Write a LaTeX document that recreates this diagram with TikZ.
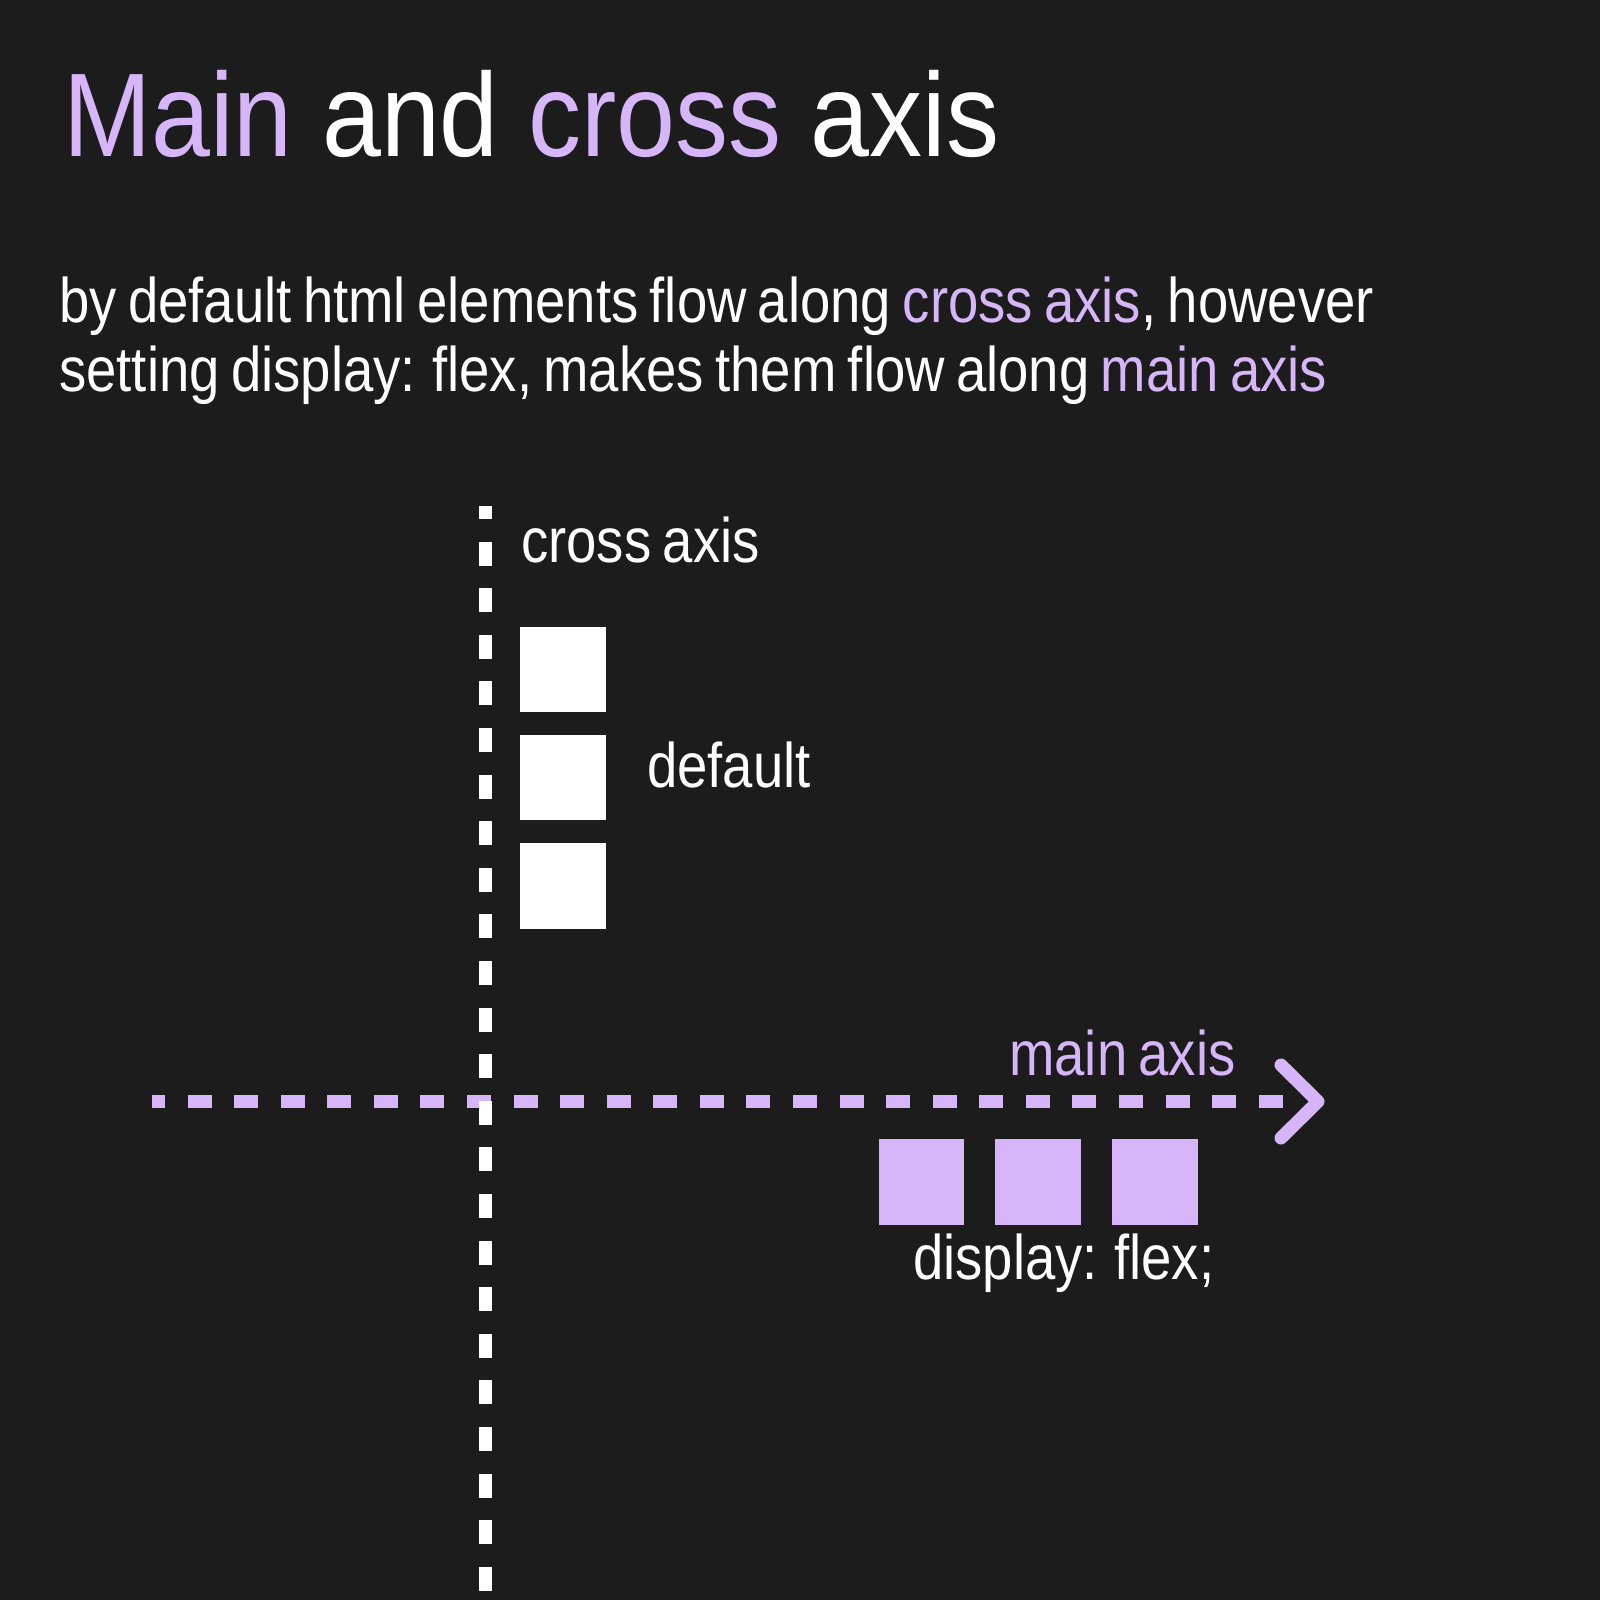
\documentclass[tikz,border=0pt]{standalone}
\usepackage{fontspec}
\setmainfont{Liberation Sans}
\newfontfamily\titlefont[FakeStretch=0.89]{Liberation Sans}
\newfontfamily\bodyfont[FakeStretch=0.865,WordSpace=0.75]{Liberation Sans}
\definecolor{bg}{RGB}{28,28,28}
\definecolor{purp}{RGB}{214,181,249}
\begin{document}
\begin{tikzpicture}[x=1pt,y=-1pt,
  wbox/.style={fill=white, minimum size=85.7pt, inner sep=0pt, draw=none},
  pbox/.style={fill=purp, minimum size=85.7pt, inner sep=0pt, draw=none},
  bodytext/.style={anchor=base west, inner sep=0pt, font=\bodyfont\fontsize{63}{63}\selectfont},
  axisline/.style={line width=13pt, dash pattern=on 24pt off 22.6pt, dash phase=11pt}]
\fill[bg] (0,0) rectangle (1600,1600);
\useasboundingbox (0,0) rectangle (1600,1600);

\node[anchor=base west, inner sep=0pt, text=white, font=\titlefont\fontsize{119}{119}\selectfont] (title) at (63,156)
  {\textcolor{purp}{Main} and \textcolor{purp}{cross} axis};

\node[bodytext, text=white] (sub1) at (59,322) {by default html elements flow along \textcolor{purp}{cross axis}, however};
\node[bodytext, text=white] (sub2) at (59,391) {setting display: flex, makes them flow along \textcolor{purp}{main axis}};

% axes
\coordinate (hl) at (152,1101.5);
\coordinate (hr) at (1283,1101.5);
\coordinate (vtop) at (485.5,506);
\coordinate (vbot) at (485.5,1600);
\coordinate (armtop) at (1281,1065);
\coordinate (tip) at (1318,1101.5);
\coordinate (armbot) at (1281,1138);

\draw[purp, axisline, dash pattern=on 24pt off 22.57pt] (hl) -- (hr);
\draw[purp, line width=13pt, line cap=round, line join=round] (armtop) -- (tip) -- (armbot);
\draw[white, axisline] (vtop) -- (vbot);

% labels
\node[bodytext, text=white] (crosslbl) at (521,562) {cross axis};
\node[bodytext, text=white] (deflbl) at (647,787) {default};
\node[bodytext, text=purp] (mainlbl) at (1009,1075) {main axis};
\node[bodytext, text=white] (flexlbl) at (913,1279) {display: flex;};

% boxes
\node[wbox] (w1) at (563.3,669.4) {};
\node[wbox] (w2) at (563.3,777.6) {};
\node[wbox] (w3) at (563.3,885.7) {};
\node[pbox] (p1) at (921.4,1182.1) {};
\node[pbox] (p2) at (1038.3,1182.1) {};
\node[pbox] (p3) at (1155.1,1182.1) {};
\end{tikzpicture}
\end{document}
